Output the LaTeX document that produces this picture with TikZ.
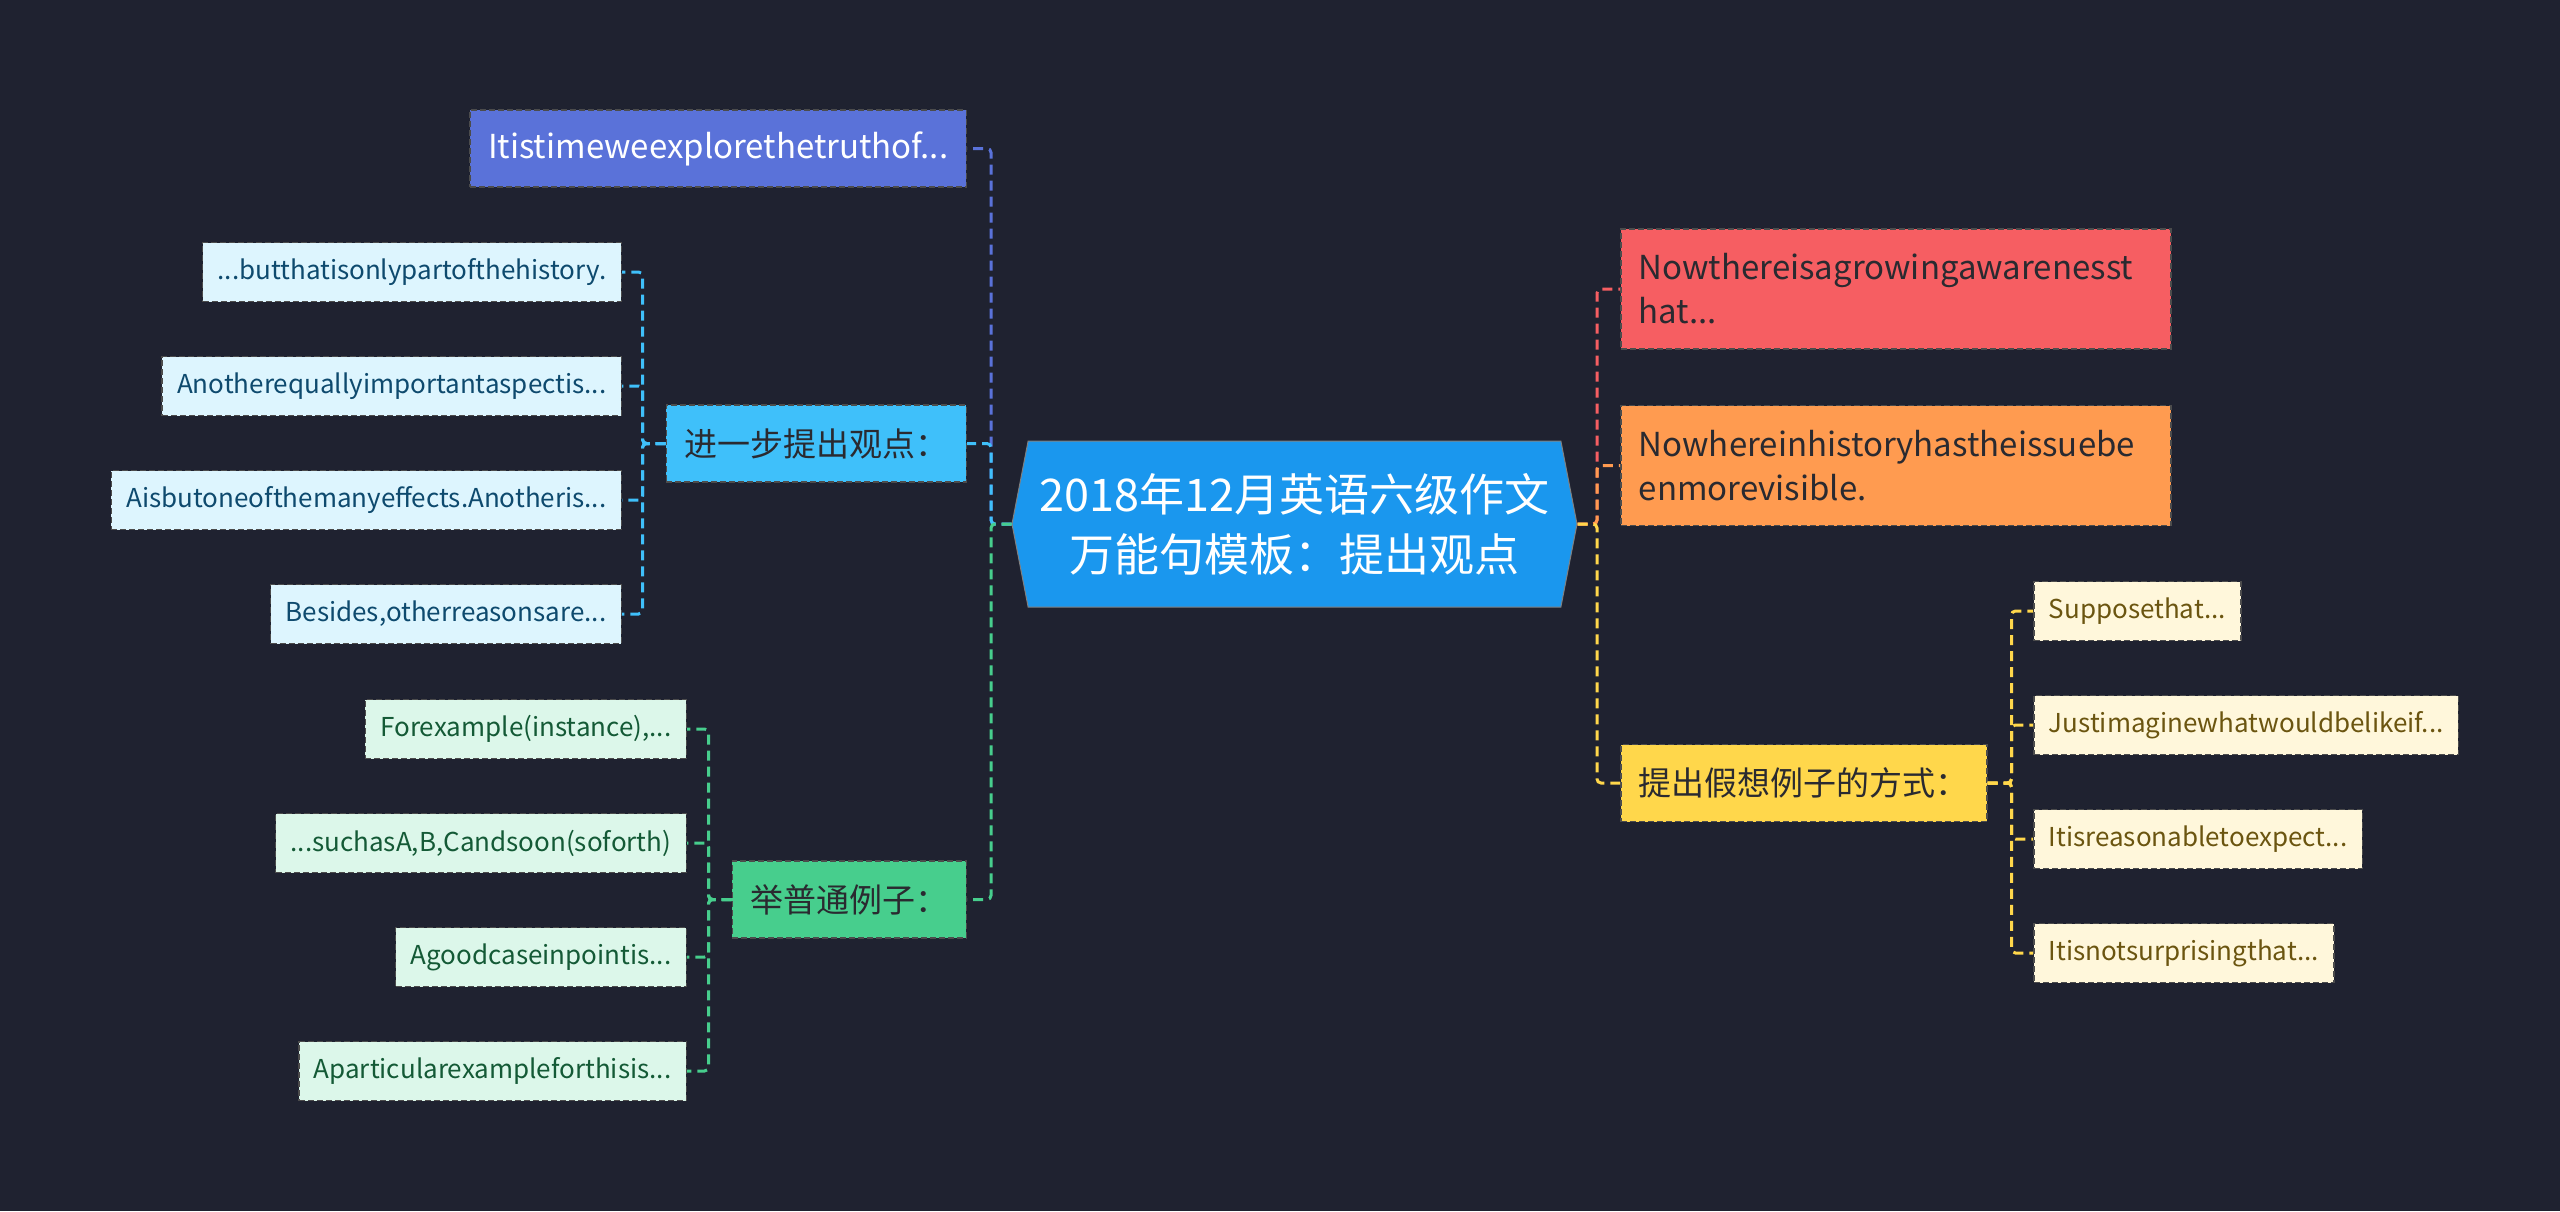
\documentclass[tikz,border=0pt]{standalone}
\usepackage{fontspec}
\setmainfont{Noto Sans CJK SC}
\usetikzlibrary{shapes.symbols}

\definecolor{bgc}{HTML}{1F2230}
\definecolor{rootc}{HTML}{1A97EE}
\definecolor{bluec}{HTML}{5A72D9}
\definecolor{cyanc}{HTML}{3FC0FA}
\definecolor{greenc}{HTML}{47CE8D}
\definecolor{redc}{HTML}{F65E62}
\definecolor{orangec}{HTML}{FF9B50}
\definecolor{yellowc}{HTML}{FFD74B}
\definecolor{cyanl}{HTML}{DDF5FE}
\definecolor{greenl}{HTML}{DCF7EA}
\definecolor{yellowl}{HTML}{FFF7DB}
\definecolor{cyant}{HTML}{0E4A6E}
\definecolor{greent}{HTML}{145A36}
\definecolor{yellowt}{HTML}{6B5510}
\definecolor{darkt}{HTML}{2A2A30}

\begin{document}
\begin{tikzpicture}[x=1pt, y=-1pt,
    root/.style={signal, signal to=west and east, signal pointer angle=158, draw=black!50, line width=1pt, fill=rootc, text=white, font=\fontsize{45}{60}\selectfont, align=center, minimum width=565pt, minimum height=166pt, inner sep=0pt},
    topic/.style={rectangle, draw=black!70, dash pattern=on 6pt off 3pt, line width=1.5pt, font=\fontsize{33}{44}\selectfont, align=left, inner xsep=18pt, minimum height=77pt, text=darkt},
    leaf/.style={rectangle, draw=black!70, dash pattern=on 6pt off 3pt, line width=1.5pt, font=\fontsize{26}{32}\selectfont, inner xsep=15pt, minimum height=59pt},
    link/.style={line width=3pt, dash pattern=on 10pt off 6pt, rounded corners=4pt}
]

% Background
\fill[bgc] (0,0) rectangle (2560,1211);
\useasboundingbox (0,0) rectangle (2560,1211);

% Root
\node[root] (ctr) at (1294.5, 524) {2018年12月英语六级作文\\万能句模板：提出观点};

% Left topics
\node[topic, fill=bluec, text=white, anchor=east] (itis) at (967, 148.5) {Itistimeweexplorethetruthof...};
\node[topic, fill=cyanc, anchor=east] (jyb) at (967, 443.5) {进一步提出观点：};
\node[topic, fill=greenc, anchor=east] (jpt) at (967, 899.5) {举普通例子：};

% Right topics
\node[topic, fill=redc, anchor=west, minimum height=120pt, text width=514pt] (now1) at (1620, 289) {Nowthereisagrowingawarenesst\\hat...};
\node[topic, fill=orangec, anchor=west, minimum height=120pt, text width=514pt] (now2) at (1620, 465.5) {Nowhereinhistoryhastheissuebe\\enmorevisible.};
\node[topic, fill=yellowc, anchor=west] (tcj) at (1620, 783) {提出假想例子的方式：};

% Leaves
\node[leaf, fill=cyanl, text=cyant, anchor=east] (jyb1) at (622, 272) {...butthatisonlypartofthehistory.};
\node[leaf, fill=cyanl, text=cyant, anchor=east] (jyb2) at (622, 386) {Anotherequallyimportantaspectis...};
\node[leaf, fill=cyanl, text=cyant, anchor=east] (jyb3) at (622, 500) {Aisbutoneofthemanyeffects.Anotheris...};
\node[leaf, fill=cyanl, text=cyant, anchor=east] (jyb4) at (622, 614) {Besides,otherreasonsare...};

\node[leaf, fill=greenl, text=greent, anchor=east] (jpt1) at (687, 729) {Forexample(instance),...};
\node[leaf, fill=greenl, text=greent, anchor=east] (jpt2) at (687, 843) {...suchasA,B,Candsoon(soforth)};
\node[leaf, fill=greenl, text=greent, anchor=east] (jpt3) at (687, 957) {Agoodcaseinpointis...};
\node[leaf, fill=greenl, text=greent, anchor=east] (jpt4) at (687, 1071) {Aparticularexampleforthisis...};

\node[leaf, fill=yellowl, text=yellowt, anchor=west] (tcj1) at (2033, 611) {Supposethat...};
\node[leaf, fill=yellowl, text=yellowt, anchor=west] (tcj2) at (2033, 725) {Justimaginewhatwouldbelikeif...};
\node[leaf, fill=yellowl, text=yellowt, anchor=west] (tcj3) at (2033, 839) {Itisreasonabletoexpect...};
\node[leaf, fill=yellowl, text=yellowt, anchor=west] (tcj4) at (2033, 953) {Itisnotsurprisingthat...};

% Trunks
\coordinate (ltrunk) at (991, 524);
\coordinate (rtrunk) at (1597, 524);

% Links from root
\draw[link, bluec] (ctr.west) -- (ltrunk) |- (itis.east);
\draw[link, cyanc] (ctr.west) -- (ltrunk) |- (jyb.east);
\draw[link, greenc] (ctr.west) -- (ltrunk) |- (jpt.east);
\draw[link, redc] (ctr.east) -- (rtrunk) |- (now1.west);
\draw[link, orangec] (ctr.east) -- (rtrunk) |- (now2.west);
\draw[link, yellowc] (ctr.east) -- (rtrunk) |- (tcj.west);

% Links to leaves
\foreach \i in {1,...,4} {
  \draw[link, cyanc] (jyb.west) -- ++(-23,0) |- (jyb\i.east);
  \draw[link, greenc] (jpt.west) -- ++(-23,0) |- (jpt\i.east);
  \draw[link, yellowc] (tcj.east) -- ++(24,0) |- (tcj\i.west);
}

\end{tikzpicture}
\end{document}
